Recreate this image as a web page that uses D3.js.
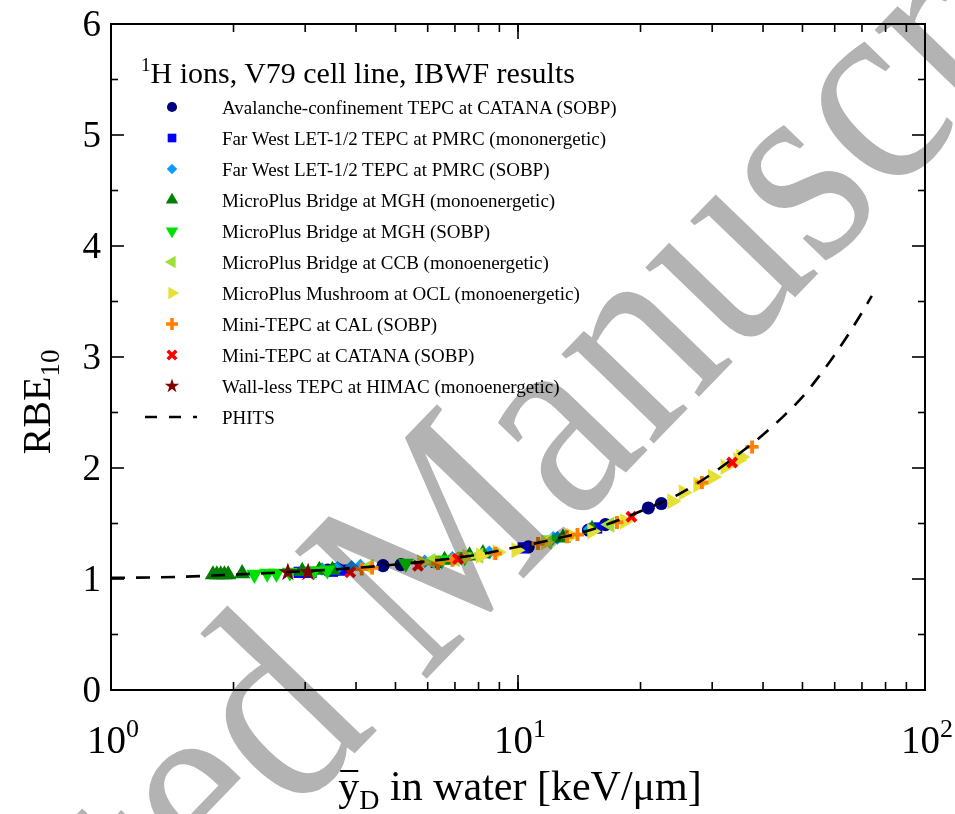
<!DOCTYPE html>
<html>
<head>
<meta charset="utf-8">
<script src="https://cdn.jsdelivr.net/npm/d3@7"></script>
<style>
  body { margin: 0; background: #fff; }
  svg { display: block; font-family: "Liberation Serif", "Times New Roman", serif; }
</style>
</head>
<body>
<svg id="chart" width="955" height="814"></svg>
<script>
// --- data ---
const xTicksMajor = [1, 10, 100];
const xTickLabels = [['10', '0'], ['10', '1'], ['10', '2']];
const yTicks = [0, 1, 2, 3, 4, 5, 6];

const phitsX = [1, 1.5, 2, 3, 4, 5, 6, 8, 10, 12, 15, 20, 25, 30, 35, 40, 45, 50, 55, 60, 65, 70, 74];
const phitsY = [1.01, 1.02, 1.04, 1.07, 1.10, 1.13, 1.16, 1.22, 1.29, 1.35, 1.44, 1.61, 1.77, 1.95, 2.13, 2.30, 2.47, 2.64, 2.83, 3.02, 3.21, 3.40, 3.55];

const avalancheX = [3.41, 3.6, 4.66, 5.16, 10.6, 14.9, 16.4, 20.9, 22.5];
const avalancheY = [1.08, 1.09, 1.12, 1.13, 1.29, 1.44, 1.49, 1.64, 1.68];

const farWestMonoX = [2.9, 3.1, 3.5, 3.7, 6.3, 10.3, 15.6];
const farWestMonoY = [1.06, 1.06, 1.07, 1.08, 1.15, 1.28, 1.46];

const farWestSobpX = [3.3, 3.6, 3.9, 4.1, 5.9, 6.9, 8.5, 12.2, 12.5, 15.0];
const farWestSobpY = [1.09, 1.10, 1.11, 1.12, 1.16, 1.19, 1.24, 1.37, 1.37, 1.45];

const mghMonoX = [1.78, 1.82, 1.86, 1.9, 1.94, 2.1, 2.95, 3.25, 3.5, 6.6, 7.6, 8.2, 12.9, 15.2];
const mghMonoY = [1.04, 1.04, 1.04, 1.04, 1.04, 1.05, 1.07, 1.08, 1.08, 1.17, 1.21, 1.23, 1.37, 1.45];

const mghSobpX = [2.25, 2.42, 2.55, 2.75, 3.15, 3.4, 5.3, 6.5, 7.4, 12.0];
const mghSobpY = [1.04, 1.05, 1.05, 1.06, 1.07, 1.08, 1.14, 1.17, 1.20, 1.35];

const ccbX = [4.3, 6.1, 7.0, 8.0, 11.8, 16.8];
const ccbY = [1.11, 1.16, 1.18, 1.21, 1.34, 1.49];

const oclX = [5.8, 7.5, 8.1, 8.9, 9.9, 11.7, 13.5, 15.2, 18.3, 23.9, 25.5, 27.7, 30.1, 32.3, 34.7, 35.3];
const oclY = [1.15, 1.20, 1.21, 1.24, 1.26, 1.33, 1.39, 1.43, 1.52, 1.70, 1.78, 1.85, 1.92, 2.01, 2.07, 2.10];

const calX = [4.13, 4.38, 6.36, 6.9, 8.8, 11.2, 13.2, 14.0, 17.5, 28.3, 37.6];
const calY = [1.09, 1.10, 1.14, 1.17, 1.23, 1.32, 1.38, 1.40, 1.51, 1.87, 2.19];

const catanaX = [3.87, 5.68, 7.12, 19.0, 33.6];
const catanaY = [1.06, 1.12, 1.18, 1.56, 2.05];

const himacX = [2.72, 3.05];
const himacY = [1.06, 1.06];

const series = [
  { name: 'Avalanche-confinement TEPC at CATANA (SOBP)', xs: avalancheX, ys: avalancheY, shape: 'circle', color: '#000080' },
  { name: 'Far West LET-1/2 TEPC at PMRC (mononergetic)', xs: farWestMonoX, ys: farWestMonoY, shape: 'square', color: '#0000ff' },
  { name: 'Far West LET-1/2 TEPC at PMRC (SOBP)', xs: farWestSobpX, ys: farWestSobpY, shape: 'diamond', color: '#0a9bff' },
  { name: 'MicroPlus Bridge at MGH (monoenergetic)', xs: mghMonoX, ys: mghMonoY, shape: 'up', color: '#008000' },
  { name: 'MicroPlus Bridge at MGH (SOBP)', xs: mghSobpX, ys: mghSobpY, shape: 'down', color: '#00e000' },
  { name: 'MicroPlus Bridge at CCB (monoenergetic)', xs: ccbX, ys: ccbY, shape: 'left', color: '#9ee03a' },
  { name: 'MicroPlus Mushroom at OCL (monoenergetic)', xs: oclX, ys: oclY, shape: 'right', color: '#e6e035' },
  { name: 'Mini-TEPC at CAL (SOBP)', xs: calX, ys: calY, shape: 'plus', color: '#ff8000' },
  { name: 'Mini-TEPC at CATANA (SOBP)', xs: catanaX, ys: catanaY, shape: 'cross', color: '#ff0000' },
  { name: 'Wall-less TEPC at HIMAC (monoenergetic)', xs: himacX, ys: himacY, shape: 'star', color: '#800000' }
];

// --- layout ---
const svg = d3.select('#chart');
const mLeft = 111, mRight = 925, mTop = 24, mBottom = 690;
const x = d3.scaleLog().domain([1, 100]).range([mLeft, mRight]);
const y = d3.scaleLinear().domain([0, 6]).range([mBottom, mTop]);

// marker drawing, s = rough half-size in px
function marker(g, shape, color, s) {
  if (shape === 'plus' || shape === 'cross') {
    const a = shape === 'plus' ? 0 : 45;
    g.append('path')
      .attr('d', `M${-s},0H${s}M0,${-s}V${s}`)
      .attr('transform', `rotate(${a})`)
      .attr('stroke', color).attr('stroke-width', s * 0.6).attr('fill', 'none');
    return;
  }
  const types = { circle: d3.symbolCircle, square: d3.symbolSquare, diamond: d3.symbolSquare,
    up: d3.symbolTriangle, down: d3.symbolTriangle, left: d3.symbolTriangle, right: d3.symbolTriangle, star: d3.symbolStar };
  const rot = { down: 180, left: -90, right: 90, diamond: 45 };
  const area = { circle: 3.2, square: 3.0, diamond: 2.2, up: 2.7, down: 2.7, left: 2.7, right: 2.7, star: 2.6 };
  g.append('path')
    .attr('d', d3.symbol().type(types[shape]).size(area[shape] * s * s)())
    .attr('transform', `rotate(${rot[shape] || 0})`)
    .attr('fill', color);
}

// PHITS dashed curve
const phits = phitsX.map((v, i) => [v, phitsY[i]]);
const line = d3.line().x(d => x(d[0])).y(d => y(d[1])).curve(d3.curveMonotoneX);

// data markers
const plot = svg.append('g');
series.forEach(s => {
  s.xs.forEach((v, i) => {
    const g = plot.append('g').attr('transform', `translate(${x(v)},${y(s.ys[i])})`);
    marker(g, s.shape, s.color, 6.5);
  });
});

svg.append('path')
  .datum(phits)
  .attr('d', line)
  .attr('fill', 'none')
  .attr('stroke', '#000')
  .attr('stroke-width', 2.6)
  .attr('stroke-dasharray', '14,11');

// frame and ticks
svg.append('rect')
  .attr('x', mLeft).attr('y', mTop).attr('width', mRight - mLeft).attr('height', mBottom - mTop)
  .attr('fill', 'none').attr('stroke', '#000').attr('stroke-width', 2);

const tickG = svg.append('g').attr('stroke', '#000').attr('stroke-width', 1.6);
d3.range(0.5, 6, 0.5).forEach(v => {
  const major = Math.abs(v - Math.round(v)) < 1e-6;
  const len = major ? 13 : 7;
  tickG.append('line').attr('x1', mLeft).attr('x2', mLeft + len).attr('y1', y(v)).attr('y2', y(v));
  tickG.append('line').attr('x1', mRight).attr('x2', mRight - len).attr('y1', y(v)).attr('y2', y(v));
});
[1, 10].forEach(dec => {
  d3.range(1, 11).forEach(k => {
    const v = dec * k;
    if (v === 1 || v === 100) return;
    const len = k === 10 ? 15 : 8;
    tickG.append('line').attr('x1', x(v)).attr('x2', x(v)).attr('y1', mBottom).attr('y2', mBottom - len);
    tickG.append('line').attr('x1', x(v)).attr('x2', x(v)).attr('y1', mTop).attr('y2', mTop + len);
  });
});

// tick labels
svg.append('g').selectAll('text').data(yTicks).join('text')
  .attr('x', 101).attr('y', d => y(d) + 12)
  .attr('text-anchor', 'end')
  .attr('font-size', 37)
  .text(d => d);

xTicksMajor.forEach((v, i) => {
  const t = svg.append('text')
    .attr('x', x(v) + 2).attr('y', 753)
    .attr('text-anchor', 'middle')
    .attr('font-size', 39);
  t.append('tspan').text(xTickLabels[i][0]);
  t.append('tspan').attr('dy', -16).attr('font-size', 26).text(xTickLabels[i][1]);
});

// axis titles
const yt = svg.append('text')
  .attr('transform', 'translate(50,402) rotate(-90)')
  .attr('text-anchor', 'middle')
  .attr('font-size', 40);
yt.append('tspan').text('RBE');
yt.append('tspan').attr('dy', 9).attr('font-size', 27).text('10');

const xt = svg.append('text')
  .attr('x', 520).attr('y', 800)
  .attr('text-anchor', 'middle')
  .attr('font-size', 42);
xt.append('tspan').text('y');
xt.append('tspan').attr('dy', 9).attr('font-size', 28).text('D');
xt.append('tspan').attr('dy', -9).text(' in water [keV/\u03bcm]');
const yBox = xt.node().getExtentOfChar(0);
svg.append('line')
  .attr('x1', yBox.x + 2).attr('x2', yBox.x + yBox.width - 1)
  .attr('y1', 771).attr('y2', 771)
  .attr('stroke', '#000').attr('stroke-width', 2);

// legend
const title = svg.append('text').attr('x', 141).attr('y', 83).attr('font-size', 30);
title.append('tspan').attr('dy', -12).attr('font-size', 19).text('1');
title.append('tspan').attr('dy', 12).text('H ions, V79 cell line, IBWF results');

const legend = svg.append('g');
series.forEach((s, i) => {
  const yy = 107 + i * 31;
  const g = legend.append('g').attr('transform', `translate(172,${yy})`);
  marker(g, s.shape, s.color, s.shape === 'plus' || s.shape === 'cross' ? 6 : 5);
  legend.append('text').attr('x', 222).attr('y', yy + 7).attr('font-size', 19).text(s.name);
});
const yPh = 107 + 10 * 31;
legend.append('line').attr('x1', 145).attr('x2', 197).attr('y1', yPh).attr('y2', yPh)
  .attr('stroke', '#000').attr('stroke-width', 2.6).attr('stroke-dasharray', '12,12');
legend.append('text').attr('x', 222).attr('y', yPh + 7).attr('font-size', 19).text('PHITS');

// watermark
svg.append('text')
  .attr('transform', 'translate(467,637) rotate(-46) scale(0.88,1)')
  .attr('text-anchor', 'middle')
  .attr('font-size', 280)
  .attr('fill', '#b3b3b3')
  .style('mix-blend-mode', 'multiply')
  .text('Accepted Manuscript');
</script>
</body>
</html>
